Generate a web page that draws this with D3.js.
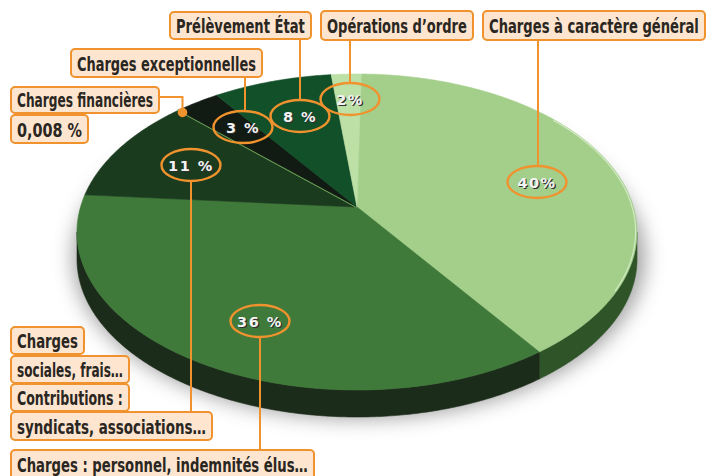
<!DOCTYPE html>
<html>
<head>
<meta charset="utf-8">
<script src="https://cdn.jsdelivr.net/npm/d3@7"></script>
<style>
  body { margin: 0; background: #fff; }
  svg { display: block; }
</style>
</head>
<body>
<div id="chart"></div>
<script>
// slices, clockwise from the top
var categories = ['Charges à caractère général', 'Charges : personnel, indemnités élus…',
  'Contributions : syndicats, associations…', 'Charges financières',
  'Charges exceptionnelles', 'Prélèvement État', 'Opérations d\u2019ordre'];
var values = [40, 36, 11, 0.008, 3, 8, 2];
var pctLabels = ['40%', '36 %', '11 %', '0,008 %', '3 %', '8 %', '2%'];

var topColors = ['#a3cf8b', '#3f7a3a', '#1b3b1f', '#7cba63', '#111a13', '#12502a', '#bde0a7'];
var sideColors = ['#2f5428', '#1c2c1a', '#142614', '#142614', '#0c120c', '#0d3519', '#5d8a4c'];

var w = 707; var h = 476;
var cx = 357, cy = 232, rx = 280, ry = 158, lift = -25, thick = 27;
var A = rx * Math.sqrt(1 - (lift / ry) * (lift / ry));
var p = lift / ry;

var orange = '#f0922e';
var boxFill = '#fde5cf';
var labelFont = '"Liberation Sans Narrow", "DejaVu Sans Condensed", "Roboto", sans-serif';

// perspective projection of a point on the unit disc
function project(theta, r) {
	var u = r * Math.sin(theta), v = -r * Math.cos(theta);
	var d = 1 + p * v;
	return [cx + A * u / d, cy + (ry * v + lift) / d];
}

function arcPoints(a0, a1, r) {
	var n = Math.max(2, Math.ceil((a1 - a0) / 0.01));
	var pts = [];
	for (var i = 0; i <= n; i++) pts.push(project(a0 + (a1 - a0) * i / n, r));
	return pts;
}

var svg = d3.select('#chart')
			.append('svg')
			.attr('width', w)
			.attr('height', h);

var defs = svg.append('defs');
defs.append('filter').attr('id', 'blur')
	.attr('x', '-20%').attr('y', '-20%').attr('width', '140%').attr('height', '140%')
	.append('feGaussianBlur').attr('stdDeviation', 10);

var line = d3.line();

var data = categories.map(function(c, i) { return {name: c, value: values[i], i: i}; });

var pie = d3.pie()
			.sort(null)
			.startAngle(Math.PI / 180)
			.endAngle(Math.PI / 180 + 2 * Math.PI)
			.value(function(d) { return d.value; });
var arcs = pie(data);

// soft shadow under the disc
var outline = arcPoints(0, 2 * Math.PI, 1.02).map(function(q) { return [q[0] + 2, q[1] + thick * 0.6 + 8]; });
svg.append('path')
	.attr('d', line(outline) + 'Z')
	.attr('fill', '#808080')
	.attr('opacity', 0.75)
	.attr('filter', 'url(#blur)');

// side of the disc (visible front part only)
var sideA = Math.acos(lift / ry);
var sideB = 2 * Math.PI - sideA;
arcs.forEach(function(a) {
	var a0 = Math.max(a.startAngle, sideA), a1 = Math.min(a.endAngle, sideB);
	if (a1 <= a0) return;
	var top = arcPoints(a0, a1, 1);
	var bottom = top.map(function(q) { return [q[0], q[1] + thick]; }).reverse();
	svg.append('path')
		.attr('d', line(top.concat(bottom)) + 'Z')
		.attr('fill', sideColors[a.data.i])
		.attr('stroke', sideColors[a.data.i])
		.attr('stroke-width', 0.6);
});

// top face
svg.selectAll('path.slice')
	.data(arcs)
	.enter()
	.append('path')
	.attr('class', 'slice')
	.attr('d', function(a) {
		return line([project(0, 0)].concat(arcPoints(a.startAngle, a.endAngle, 1))) + 'Z';
	})
	.attr('fill', function(a) { return topColors[a.data.i]; })
	.attr('stroke', function(a) { return topColors[a.data.i]; })
	.attr('stroke-width', function(a) { return a.data.value < 0.1 ? 2 : 0.6; });

// rim highlight on the right
svg.append('path')
	.attr('d', line(arcPoints(0.9, 2.1, 0.995)))
	.attr('fill', 'none')
	.attr('stroke', '#e4f3d8')
	.attr('stroke-width', 1.2)
	.attr('opacity', 0.7);

// ---- callouts ----
var boxes = [
	{x0: 483, y0: 11, x1: 705, y1: 40, text: categories[0]},
	{x0: 321, y0: 11, x1: 473, y1: 40, text: categories[6]},
	{x0: 170, y0: 12, x1: 311, y1: 39, text: categories[5]},
	{x0: 71, y0: 49, x1: 262, y1: 77, text: categories[4]},
	{x0: 11, y0: 87, x1: 159, y1: 113, text: categories[3]},
	{x0: 11, y0: 115, x1: 88, y1: 143, text: pctLabels[3]},
	{x0: 11, y0: 327, x1: 84, y1: 354, text: 'Charges'},
	{x0: 11, y0: 356, x1: 129, y1: 383, text: 'sociales, frais…'},
	{x0: 11, y0: 384, x1: 129, y1: 411, text: 'Contributions :'},
	{x0: 11, y0: 412, x1: 212, y1: 440, text: 'syndicats, associations…'},
	{x0: 11, y0: 450, x1: 314, y1: 482, text: 'Charges : personnel, indemnités élus…'}
];

var rings = [
	{i: 0, x: 537, y: 182, lx: 538, ly: 40},
	{i: 6, x: 350, y: 99, lx: 350, ly: 40},
	{i: 5, x: 300, y: 116, lx: 300, ly: 39},
	{i: 4, x: 243, y: 127, lx: 245, ly: 77},
	{i: 2, x: 191, y: 165, lx: 191, ly: 412, down: true},
	{i: 1, x: 260, y: 321, lx: 260, ly: 450, down: true}
];

// leader lines
rings.forEach(function(r) {
	var y0 = r.down ? r.y + 16 : r.y - 16;
	svg.append('line')
		.attr('x1', r.lx).attr('x2', r.lx)
		.attr('y1', y0).attr('y2', r.ly)
		.attr('stroke', orange).attr('stroke-width', 2);
});

// financial charges marker, on the rim of its (tiny) slice
var fin = arcs[3];
var dot = project((fin.startAngle + fin.endAngle) / 2, 0.975);
svg.append('path')
	.attr('d', line([[159, 97], [dot[0], 97], [dot[0], dot[1]]]))
	.attr('fill', 'none').attr('stroke', orange).attr('stroke-width', 2);
svg.append('circle')
	.attr('cx', dot[0]).attr('cy', dot[1]).attr('r', 4.8)
	.attr('fill', orange);

// percent rings and labels
rings.forEach(function(r) {
	svg.append('ellipse')
		.attr('cx', r.x).attr('cy', r.y).attr('rx', 29.5).attr('ry', 16)
		.attr('fill', 'none').attr('stroke', orange).attr('stroke-width', 2.4);
	[['#2e2e2e', 1.2], ['#f3f3f3', 0]].forEach(function(s) {
		svg.append('text')
			.attr('x', r.x + s[1]).attr('y', r.y + 5.5 + s[1])
			.attr('text-anchor', 'middle')
			.attr('font-family', '"DejaVu Sans", Verdana, sans-serif')
			.attr('font-weight', 'bold')
			.attr('font-size', 14.5)
			.attr('letter-spacing', 1.5)
			.attr('fill', s[0])
			.text(pctLabels[r.i]);
	});
});

// label boxes; text squeezed horizontally to the box width
boxes.forEach(function(b) {
	svg.append('rect')
		.attr('x', b.x0).attr('y', b.y0)
		.attr('width', b.x1 - b.x0).attr('height', b.y1 - b.y0)
		.attr('rx', 4).attr('ry', 4)
		.attr('fill', boxFill).attr('stroke', orange).attr('stroke-width', 2);
	var tx = b.x0 + 6, ty = Math.min(b.y1, b.y0 + 28) - 6;
	var t = svg.append('text')
		.attr('font-family', labelFont)
		.attr('font-weight', 'bold')
		.attr('font-size', 19)
		.attr('fill', '#2a2622')
		.text(b.text);
	var natural = t.node().getComputedTextLength();
	var sx = (b.x1 - b.x0 - 12) / natural;
	t.attr('transform', 'translate(' + tx + ',' + ty + ') scale(' + sx + ',1)');
});
</script>
</body>
</html>
